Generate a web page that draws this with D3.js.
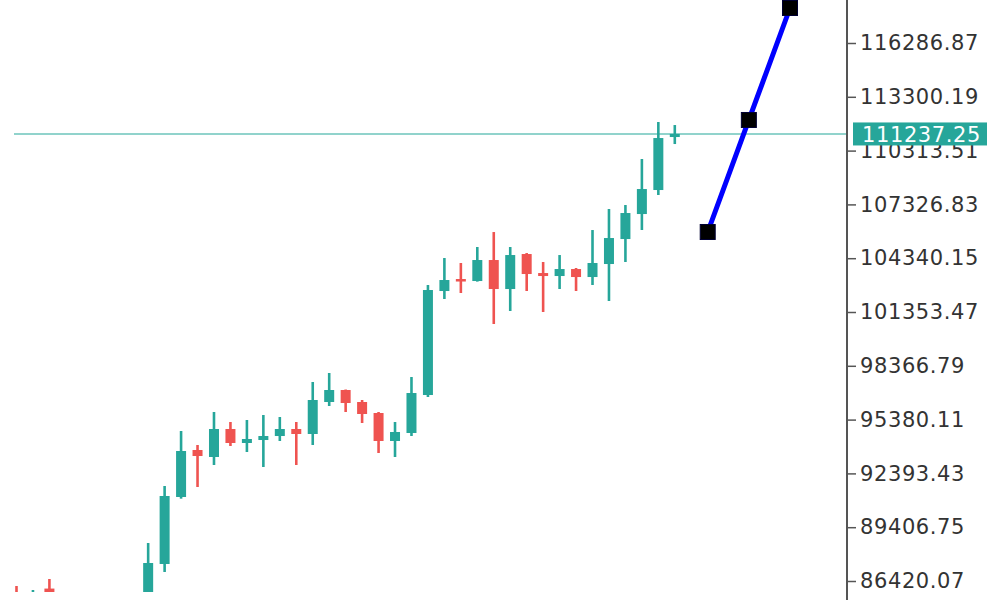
<!DOCTYPE html>
<html>
<head>
<meta charset="utf-8">
<script src="https://cdn.jsdelivr.net/npm/d3@7/dist/d3.min.js"></script>
<style>
  html, body { margin: 0; padding: 0; background: #ffffff; }
  svg { display: block; }
</style>
</head>
<body>
<svg id="chart" width="1000" height="600"></svg>
<script>
// ---- data ----
const candleIndex = [0, 1, 2, 8, 9, 10, 11, 12, 13, 14, 15, 16, 17, 18, 19, 20, 21, 22, 23, 24,
  25, 26, 27, 28, 29, 30, 31, 32, 33, 34, 35, 36, 37, 38, 39, 40];
const openValues = [85800, 85300, 86000, 85500, 87364, 91083, 93692, 93304, 94858, 94081, 94247, 94469,
  94858, 94581, 96357, 97023, 96357, 95746, 94192, 94636, 96745, 102518, 103184, 103073, 104239,
  102629, 104572, 103517, 103351, 103739, 103295, 104017, 105404, 106792, 108125, 111067];
const highValues = [86142, 85920, 86531, 88530, 91694, 94747, 93970, 95802, 95247, 95358, 95635, 95524,
  95247, 97467, 97967, 97050, 96468, 95802, 95247, 97744, 102851, 104350, 104073, 104961, 105793,
  104961, 104627, 104128, 104516, 103795, 105904, 107070, 107292, 109846, 111900, 111733];
const lowValues = [85000, 85100, 85200, 85200, 86920, 90990, 91638, 92860, 93914, 93581, 92749, 94192,
  92860, 93970, 96135, 95802, 95191, 93525, 93304, 94469, 96634, 102074, 102407, 103040, 100686,
  101408, 102518, 101352, 102629, 102518, 102851, 101963, 104128, 105904, 107847, 110678];
const closeValues = [85300, 85700, 85400, 87419, 91139, 93637, 93359, 94858, 94081, 94303, 94469, 94858,
  94581, 96468, 97023, 96301, 95691, 94192, 94691, 96856, 102574, 103129, 103073, 104239, 102629,
  104516, 103462, 103351, 103739, 103295, 104073, 105460, 106848, 108180, 111011, 111237.25];

const forecastIndex = [42, 44.5, 47];
const forecastValues = [105795, 112013, 118230];

const lastPrice = 111237.25;
const priceTicks = [86420.07, 89406.75, 92393.43, 95380.11, 98366.79, 101353.47,
  104340.15, 107326.83, 110313.51, 113300.19, 116286.87];

// ---- layout ----
const W = 1000, H = 600;
const axisX = 847;
const plotBottom = 592;
const upColor = "#26a69a", downColor = "#ef5350";

const svg = d3.select("#chart");

const x = d3.scaleLinear().domain([0, 47]).range([16.5, 790]);
const y = d3.scaleLinear().domain([priceTicks[0], priceTicks[priceTicks.length - 1]]).range([581, 43]);

const candles = candleIndex.map((d, k) => ({
  i: d, o: openValues[k], h: highValues[k], l: lowValues[k], c: closeValues[k]
}));

svg.append("defs").append("clipPath").attr("id", "plotClip")
  .append("rect").attr("x", 0).attr("y", 0).attr("width", axisX).attr("height", plotBottom);

const plot = svg.append("g").attr("clip-path", "url(#plotClip)");

// last price horizontal line
plot.append("line")
  .attr("x1", 14).attr("x2", axisX)
  .attr("y1", y(lastPrice)).attr("y2", y(lastPrice))
  .attr("stroke", "#6cc5bb").attr("stroke-width", 1.6);

// candles
const cg = plot.selectAll("g.candle").data(candles).join("g").attr("class", "candle");
cg.append("line")
  .attr("x1", d => x(d.i)).attr("x2", d => x(d.i))
  .attr("y1", d => y(d.h)).attr("y2", d => y(d.l))
  .attr("stroke", d => d.c >= d.o ? upColor : downColor)
  .attr("stroke-width", 2.6);
const bodyW = 10;
cg.append("rect")
  .attr("x", d => x(d.i) - bodyW / 2)
  .attr("width", bodyW)
  .attr("y", d => y(Math.max(d.o, d.c)))
  .attr("height", d => Math.max(2.5, Math.abs(y(d.o) - y(d.c))))
  .attr("fill", d => d.c >= d.o ? upColor : downColor);

// forecast line
const fpts = forecastIndex.map((d, k) => [x(d), y(forecastValues[k])]);
svg.append("path")
  .attr("d", d3.line()(fpts))
  .attr("fill", "none").attr("stroke", "#0000ff").attr("stroke-width", 5);
const ms = 15;
svg.selectAll("rect.marker").data(fpts).join("rect").attr("class", "marker")
  .attr("x", d => d[0] - ms / 2).attr("y", d => d[1] - ms / 2)
  .attr("width", ms).attr("height", ms)
  .attr("fill", "#000000").attr("stroke", "#000033").attr("stroke-width", 1);

// price axis
svg.append("line")
  .attr("x1", axisX).attr("x2", axisX).attr("y1", 0).attr("y2", H)
  .attr("stroke", "#555").attr("stroke-width", 2);

const axis = d3.axisRight(y).tickValues(priceTicks).tickSize(9).tickPadding(4)
  .tickFormat(d3.format(".2f"));
const ag = svg.append("g").attr("transform", `translate(${axisX},0)`).call(axis);
ag.select(".domain").remove();
ag.selectAll(".tick line").attr("stroke", "#555").attr("stroke-width", 1.5);
ag.selectAll(".tick text")
  .attr("fill", "#333")
  .style("font-family", "'DejaVu Sans', Verdana, sans-serif")
  .style("font-size", "21px")
  .style("letter-spacing", "0.6px");

// last price label
const ly = y(lastPrice);
svg.append("rect")
  .attr("x", 853).attr("y", ly - 11.5).attr("width", 134).attr("height", 23)
  .attr("fill", upColor);
svg.append("text")
  .attr("x", 862).attr("y", ly).attr("dy", "0.36em")
  .attr("fill", "#ffffff")
  .style("font-family", "'DejaVu Sans', Verdana, sans-serif")
  .style("font-size", "21px")
  .style("letter-spacing", "0.6px")
  .text(d3.format(".2f")(lastPrice));
</script>
</body>
</html>
